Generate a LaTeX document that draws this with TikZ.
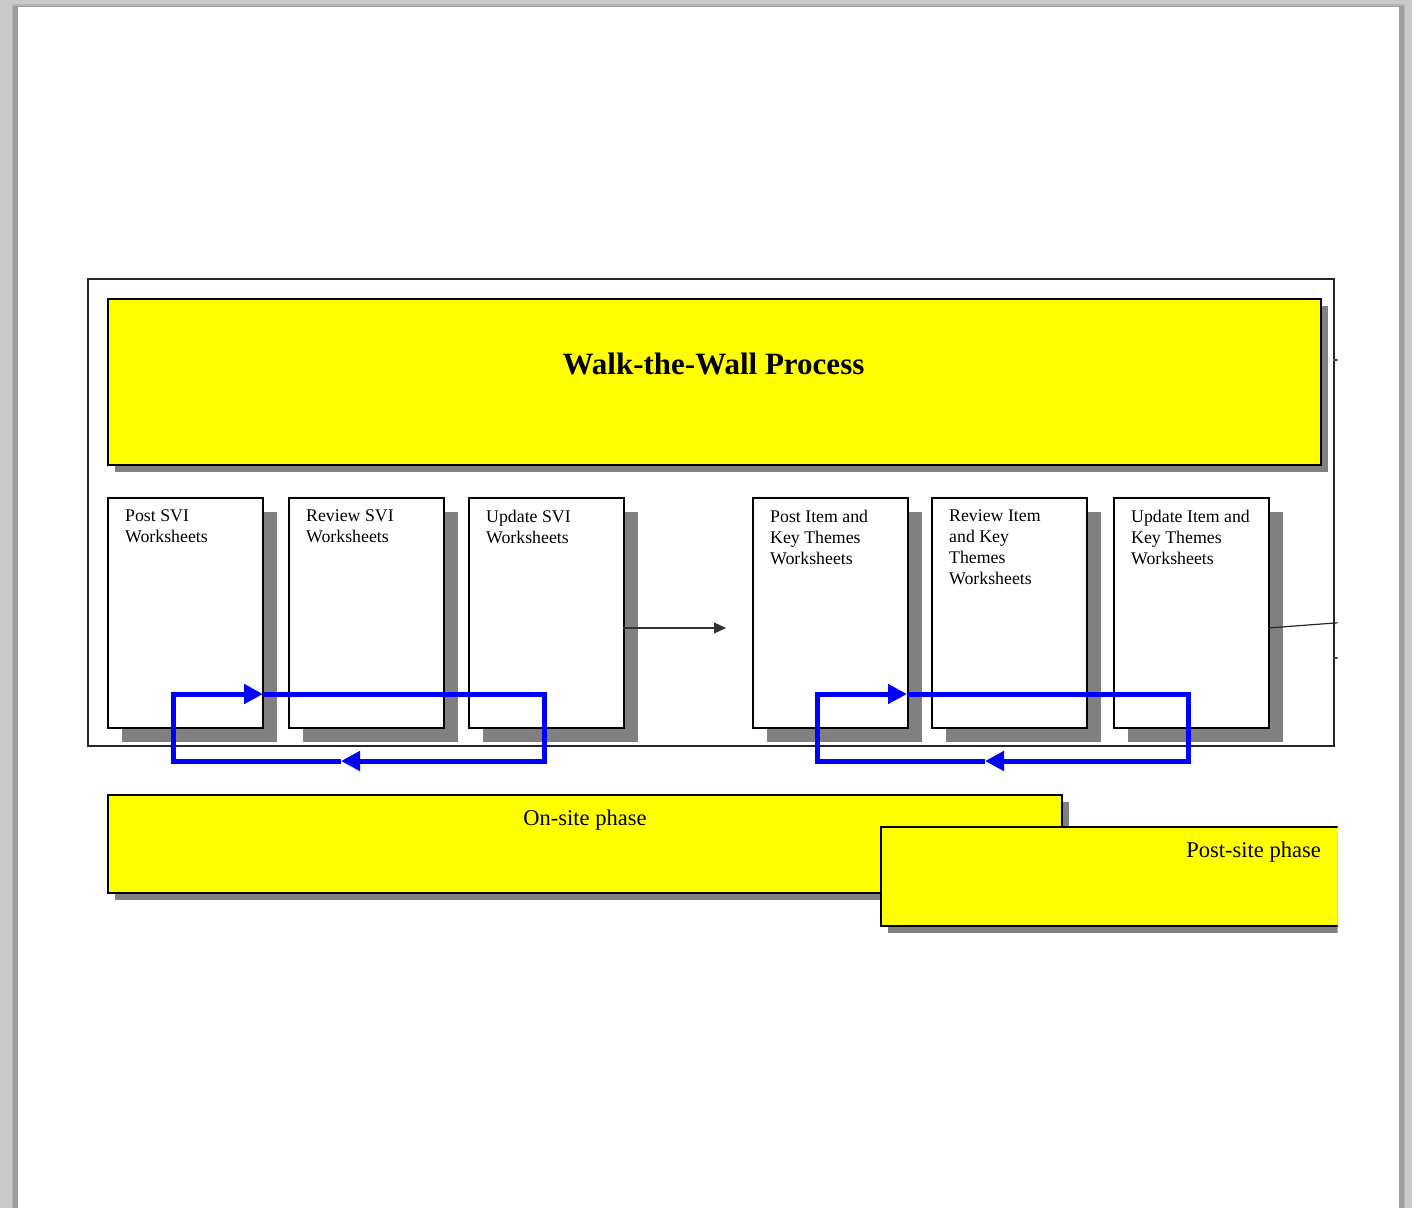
\documentclass[tikz,border=0pt]{standalone}
\usepackage{fontspec}
\setmainfont{Liberation Serif}
\usetikzlibrary{arrows.meta,shadows}
\definecolor{bgGray}{RGB}{200,201,200}
\definecolor{pageShadowA}{RGB}{180,181,180}
\definecolor{pageShadowB}{RGB}{158,159,158}
\definecolor{shadowGray}{RGB}{128,128,128}
\definecolor{hiYellow}{RGB}{255,255,0}
\definecolor{loopBlue}{RGB}{0,0,255}
\begin{document}
\begin{tikzpicture}[x=1pt,y=-1pt,
  frame/.style={draw=black!85, line width=1.6pt, fill=white, anchor=north west, inner sep=0pt},
  ybox/.style={draw=black, line width=1.8pt, fill=hiYellow, anchor=north west, inner sep=0pt,
    drop shadow={shadow xshift=7pt, shadow yshift=-7pt, fill=shadowGray, opacity=1}},
  wbox/.style={draw=black, line width=1.8pt, fill=white, anchor=north west, inner sep=0pt,
    minimum width=155pt, minimum height=230pt,
    drop shadow={shadow xshift=14pt, shadow yshift=-14pt, fill=shadowGray, opacity=1}},
  boxtext/.style={anchor=north west, inner sep=0pt, align=left, font=\fontsize{17.8}{21}\selectfont},
  phasetext/.style={inner sep=0pt, font=\fontsize{22.5}{27}\selectfont},
  thinarrow/.style={draw=black!80, line width=1.2pt, -{Triangle[length=12pt,width=11pt]}},
  loop/.style={draw=loopBlue, line width=5pt, -{Triangle[length=19pt,width=19pt]}}
]
\useasboundingbox (0,0) rectangle (1412,1208);
% window background and page
\fill[bgGray] (0,0) rectangle (1412,1208);
\fill[pageShadowA] (12,4) rectangle (1405,1208);
\fill[pageShadowB] (13,6) rectangle (1404,1208);
\fill[white] (18,7) rectangle (1399,1208);

\begin{scope}
\clip (0,0) rectangle (1337.5,1208);
% outer frame
\node[frame, minimum width=1246pt, minimum height=467pt] (outer) at (87,278) {};
% title band
\node[ybox, minimum width=1213pt, minimum height=166pt] (titlebox) at (107,298) {};
\node[anchor=base, inner sep=0pt, font=\bfseries\fontsize{31}{37}\selectfont] (title) at (713.5,374) {Walk-the-Wall Process};

% worksheet boxes
\node[wbox] (b1) at (107,497) {};
\node[wbox] (b2) at (288,497) {};
\node[wbox] (b3) at (468,497) {};
\node[wbox] (b4) at (752,497) {};
\node[wbox] (b5) at (931,497) {};
\node[wbox] (b6) at (1113,497) {};

\node[boxtext] (t1) at (125,510) {Post SVI\\Worksheets};
\node[boxtext] (t2) at (306,510) {Review SVI\\Worksheets};
\node[boxtext] (t3) at (486,510) {Update SVI\\Worksheets};
\node[boxtext] (t4) at (770,510) {Post Item and\\Key Themes\\Worksheets};
\node[boxtext] (t5) at (949,510) {Review Item\\and Key\\Themes\\Worksheets};
\node[boxtext] (t6) at (1131,510) {Update Item and\\Key Themes\\Worksheets};

% connectors between the phases
\coordinate (a1) at (623,628);
\coordinate (a2) at (726,628);
\draw[thinarrow] (a1) -- (a2);
\coordinate (s1) at (1268,628);
\coordinate (s2) at (1348,622);
\draw[draw=black!85, line width=1.2pt] (s1) -- (s2);
\coordinate (k1) at (1333,360);
\coordinate (k2) at (1348,360);
\coordinate (k3) at (1333,658);
\coordinate (k4) at (1348,658);
\draw[draw=black!75, line width=1.5pt] (k1) -- (k2);
\draw[draw=black!75, line width=1.5pt] (k3) -- (k4);

% blue feedback loops
\coordinate (la1) at (341,761);
\coordinate (la2) at (173,761);
\coordinate (la3) at (173,694);
\coordinate (la4) at (263,694);
\coordinate (la5) at (544,694);
\coordinate (la6) at (544,761);
\draw[loop] (la1) -- (la2) -- (la3) -- (la4);
\draw[loop] (la4) -- (la5) -- (la6) -- (la1);

\coordinate (lb1) at (985,761);
\coordinate (lb2) at (817,761);
\coordinate (lb3) at (817,694);
\coordinate (lb4) at (907,694);
\coordinate (lb5) at (1188,694);
\coordinate (lb6) at (1188,761);
\draw[loop] (lb1) -- (lb2) -- (lb3) -- (lb4);
\draw[loop] (lb4) -- (lb5) -- (lb6) -- (lb1);

% phase bands
\node[ybox, minimum width=954pt, minimum height=98pt] (onsite) at (107,794) {};
\node[phasetext, anchor=base] (onsitetext) at (585,825) {On-site phase};
\node[ybox, minimum width=620pt, minimum height=99pt] (postsite) at (880,826) {};
\node[phasetext, anchor=base east] (postsitetext) at (1321,857) {Post-site phase};
\end{scope}
\end{tikzpicture}
\end{document}
